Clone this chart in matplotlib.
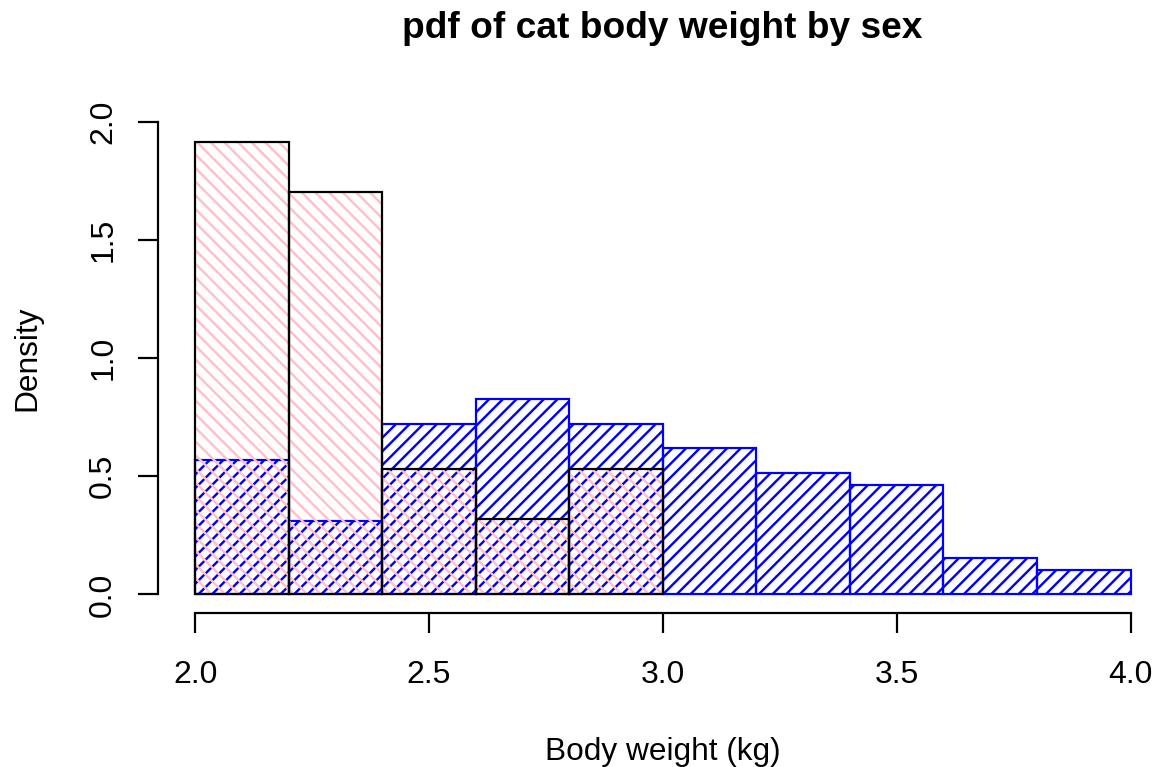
import numpy as np
import matplotlib
matplotlib.use("Agg")
import matplotlib.pyplot as plt

# data (density per 0.2 kg bin)
bin_edges = [2.0, 2.2, 2.4, 2.6, 2.8, 3.0, 3.2, 3.4, 3.6, 3.8, 4.0]
male_density = [0.567, 0.309, 0.722, 0.825, 0.722, 0.619, 0.515, 0.464, 0.155, 0.103]
female_density = [1.915, 1.702, 0.532, 0.319, 0.532]
x_ticks = [2.0, 2.5, 3.0, 3.5, 4.0]
y_ticks = [0.0, 0.5, 1.0, 1.5, 2.0]

DPI = 82
W, H = 1156, 767


def pt(px):
    # pixels -> points at this dpi
    return px * 72.0 / DPI


plt.rcParams['font.family'] = ['Liberation Sans', 'DejaVu Sans']
plt.rcParams['hatch.linewidth'] = pt(2.4)

fig = plt.figure(figsize=(W / DPI, H / DPI), dpi=DPI)
# axes placed like R's plot region
ax = fig.add_axes([157.7 / W, (H - 613.3) / H, 1010.3 / W, 510.5 / H])
ax.set_xlim(1.92, 4.08)
ax.set_ylim(-0.08, 2.08)

edges = np.array(bin_edges)
male_left = edges[:len(male_density)]
female_left = edges[:len(female_density)]
bw = 0.2

# males first, then females over the top
ax.bar(male_left, male_density, width=bw, align='edge', facecolor='none',
       edgecolor='blue', hatch='//', linewidth=pt(2.2))
ax.bar(female_left, female_density, width=bw, align='edge', facecolor='none',
       edgecolor='pink', hatch='\\\\', linewidth=0)
ax.bar(female_left, female_density, width=bw, align='edge', facecolor='none',
       edgecolor='black', linewidth=pt(2.2))

for s in ['top', 'right']:
    ax.spines[s].set_visible(False)
ax.spines['left'].set_bounds(0, 2)
ax.spines['bottom'].set_bounds(2, 4)
for s in ['left', 'bottom']:
    ax.spines[s].set_linewidth(pt(2.2))

ax.set_xticks(x_ticks)
ax.set_xticklabels(['%.1f' % v for v in x_ticks])
ax.set_yticks(y_ticks)
ax.set_yticklabels(['%.1f' % v for v in y_ticks], rotation=90, va='center')
ax.tick_params(axis='both', direction='out', length=pt(20), width=pt(2.2),
               labelsize=pt(32))
ax.tick_params(axis='x', pad=pt(26.5))
ax.tick_params(axis='y', pad=pt(19.5))

ax.set_xlabel('Body weight (kg)', fontsize=pt(31.6), labelpad=pt(47))
ax.set_ylabel('Density', fontsize=pt(31.6), labelpad=pt(46))
fig.suptitle('pdf of cat body weight by sex', x=662.5 / W, y=(H - 38) / H,
             va='baseline', fontsize=pt(37.1), fontweight='bold')

fig.savefig('out.png', dpi=DPI)
